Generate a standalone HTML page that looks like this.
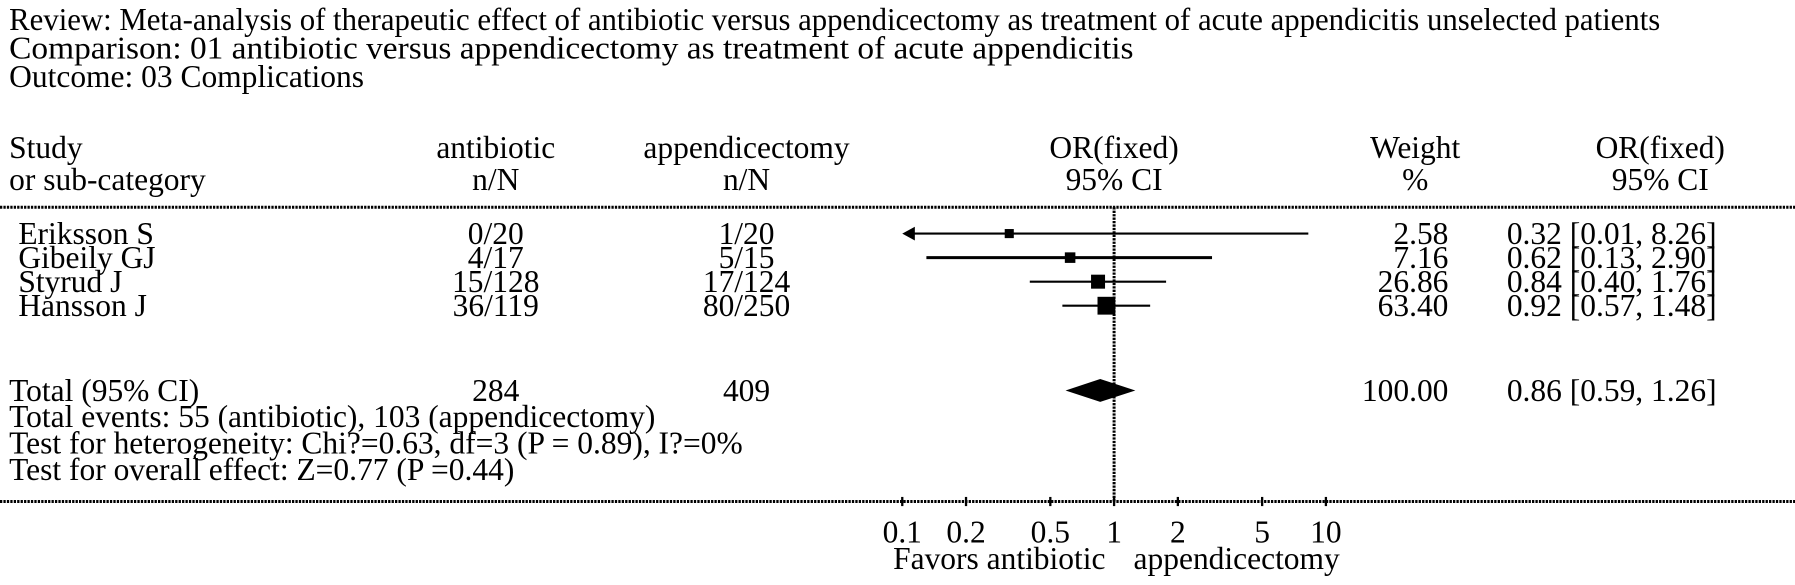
<!DOCTYPE html>
<html><head><meta charset="utf-8"><style>
html,body{margin:0;padding:0;background:#fff;}
svg{display:block;font-family:"Liberation Serif",serif;font-size:27.5px;fill:#000;}
</style></head><body>
<svg id="chart" width="1795" height="585" viewBox="0 0 1795 585" xmlns="http://www.w3.org/2000/svg">
<g transform="scale(1.145)">
<g>
<text x="8" y="26" textLength="1442" lengthAdjust="spacingAndGlyphs">Review: Meta-analysis of therapeutic effect of antibiotic versus appendicectomy as treatment of acute appendicitis unselected patients</text>
<text x="8" y="51" textLength="982" lengthAdjust="spacingAndGlyphs">Comparison: 01 antibiotic versus appendicectomy as treatment of acute appendicitis</text>
<text x="8" y="76">Outcome: 03 Complications</text>
</g>
<g>
<text x="8" y="138">Study</text><text x="8" y="166">or sub-category</text>
<text x="433" y="138" text-anchor="middle">antibiotic</text><text x="433" y="166" text-anchor="middle">n/N</text>
<text x="652" y="138" text-anchor="middle">appendicectomy</text><text x="652" y="166" text-anchor="middle">n/N</text>
<text x="973" y="138" text-anchor="middle">OR(fixed)</text><text x="973" y="166" text-anchor="middle">95% CI</text>
<text x="1236" y="138" text-anchor="middle">Weight</text><text x="1236" y="166" text-anchor="middle">%</text>
<text x="1450" y="138" text-anchor="middle">OR(fixed)</text><text x="1450" y="166" text-anchor="middle">95% CI</text>
</g>
<line x1="0" y1="181" x2="1600" y2="181" stroke="#000" stroke-width="2.6" stroke-dasharray="2,1"/>
<line x1="0" y1="438" x2="1600" y2="438" stroke="#000" stroke-width="2.6" stroke-dasharray="2,1"/>
<line x1="973" y1="181" x2="973" y2="438" stroke="#000" stroke-width="2.6" stroke-dasharray="2,1"/>
<g id="rows"></g>
<g id="axis"></g>
<g>
<text x="8" y="373">Total events: 55 (antibiotic), 103 (appendicectomy)</text>
<text x="8" y="396">Test for heterogeneity: Chi?=0.63, df=3 (P = 0.89), I?=0%</text>
<text x="8" y="419">Test for overall effect: Z=0.77 (P =0.44)</text>
</g>
<text x="780" y="497">Favors antibiotic</text>
<text x="990" y="497">appendicectomy</text>
</g>
</svg>
<script>
const studies=["Eriksson S","Gibeily GJ","Styrud J","Hansson J"];
const antiNN=["0/20","4/17","15/128","36/119"];
const appNN=["1/20","5/15","17/124","80/250"];
const orVals=[0.32,0.62,0.84,0.92];
const ciLow=[0.01,0.13,0.40,0.57];
const ciHigh=[8.26,2.90,1.76,1.48];
const weights=[2.58,7.16,26.86,63.40];
const totalOR=0.86, totalLow=0.59, totalHigh=1.26;
const totalAnti=284, totalApp=409;
const ticks=[0.1,0.2,0.5,1,2,5,10];
const NS="http://www.w3.org/2000/svg";
const xMin=0.1,xMax=10;
function xs(v){return 973+Math.log10(v)*185;}
function mk(tag,attrs,parent,txt){const e=document.createElementNS(NS,tag);for(const k in attrs)e.setAttribute(k,attrs[k]);if(txt!==undefined)e.textContent=txt;parent.appendChild(e);return e;}
const rows=document.getElementById('rows');
const rowY=[204,225,246,267];
const f2=v=>v.toFixed(2);
studies.forEach((s,i)=>{
  const y=rowY[i];
  const g=mk('g',{},rows);
  
  
  mk('text',{x:16,y:y+9},g,s);
  mk('text',{x:433,y:y+9,'text-anchor':'middle'},g,antiNN[i]);
  mk('text',{x:652,y:y+9,'text-anchor':'middle'},g,appNN[i]);
  mk('text',{x:1265,y:y+9,'text-anchor':'end'},g,f2(weights[i]));
  mk('text',{x:1316,y:y+9},g,f2(orVals[i])+' ['+f2(ciLow[i])+', '+f2(ciHigh[i])+']');
  const lo=Math.max(ciLow[i],xMin), hi=Math.min(ciHigh[i],xMax);
  let x1=xs(lo), x2=xs(hi);
  const arrowL=ciLow[i]<xMin;
  const ln=mk('line',{x1:arrowL?x1+6:x1,y1:y,x2:x2,y2:y,stroke:'#000','stroke-width':i===1?2.6:1.8},g);
  
  
  if(arrowL){const a=mk('polygon',{points:`${x1},${y} ${x1+11},${y-6} ${x1+11},${y+6}`},g);
    
    }
  const sz=6+Math.sqrt(weights[i])*1.2;
  const sq=mk('rect',{x:xs(orVals[i])-sz/2,y:y-sz/2,width:sz,height:sz},g);
  
  
});
const tg=mk('g',{},rows);


const ty=341;
mk('text',{x:8,y:ty+9},tg,'Total (95% CI)');
mk('text',{x:433,y:ty+9,'text-anchor':'middle'},tg,String(totalAnti));
mk('text',{x:652,y:ty+9,'text-anchor':'middle'},tg,String(totalApp));
mk('text',{x:1265,y:ty+9,'text-anchor':'end'},tg,'100.00');
mk('text',{x:1316,y:ty+9},tg,f2(totalOR)+' ['+f2(totalLow)+', '+f2(totalHigh)+']');
const d=mk('polygon',{points:`${xs(totalLow)},${ty} ${xs(totalOR)},${ty-10} ${xs(totalHigh)},${ty} ${xs(totalOR)},${ty+10}`},tg);


const ax=document.getElementById('axis');
ticks.forEach(t=>{
  const x=xs(t);
  const l=mk('line',{x1:x,y1:434,x2:x,y2:442,stroke:'#000','stroke-width':2},ax);
  
  
  const tx=mk('text',{x:x,y:474,'text-anchor':'middle'},ax,String(t));
  
  
});
</script>
</body></html>
